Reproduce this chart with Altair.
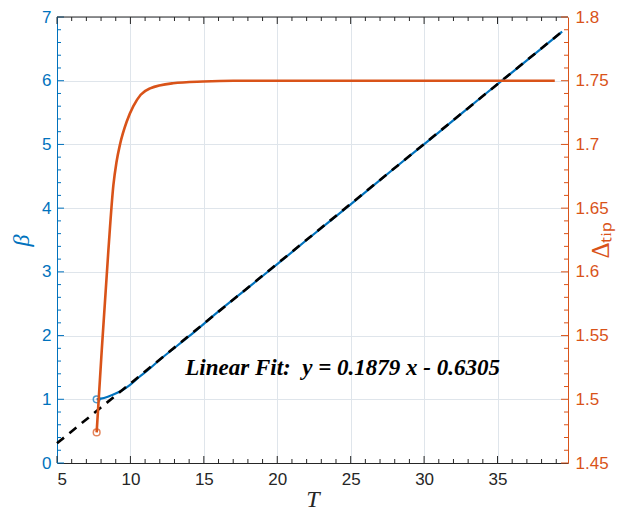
import altair as alt
import pandas as pd

# ---------------- data ----------------
beta_T = [7.7, 8.2, 8.8, 9.5, 10.0, 10.6, 11.2, 12.0, 14.0, 16.0, 18.0, 20.0, 22.0, 25.0, 28.0, 31.0, 34.0, 37.0, 39.4]
beta_v = [1.00, 1.02, 1.07, 1.15, 1.23, 1.35, 1.46, 1.62, 1.99, 2.38, 2.75, 3.12, 3.50, 4.06, 4.63, 5.19, 5.76, 6.32, 6.77]

delta_T = [7.7, 8.05, 8.5, 8.84, 9.05, 9.29, 9.75, 10.2, 10.7, 11.34, 12.9, 14.95, 17.0, 27.0, 38.9]
delta_v = [1.474, 1.539, 1.617, 1.668, 1.686, 1.700, 1.718, 1.730, 1.739, 1.744, 1.748, 1.7494, 1.750, 1.750, 1.750]

fit_T = [5.0, 39.4]
fit_v = [0.309, 6.773]

fit_label = "Linear Fit:\u00a0\u00a0y = 0.1879 x - 0.6305"
fit_label_pos = (24.45, 1.49)

x_ticks = [5, 10, 15, 20, 25, 30, 35]
x_minor = [i for i in range(6, 40) if i % 5 != 0]
yl_ticks = [0, 1, 2, 3, 4, 5, 6, 7]
yl_minor = [round(i * 0.2, 2) for i in range(1, 35) if i % 5 != 0]
yr_ticks = [1.45, 1.5, 1.55, 1.6, 1.65, 1.7, 1.75, 1.8]
yr_minor = [round(1.45 + i * 0.01, 2) for i in range(1, 35) if i % 5 != 0]

# ---------------- style ----------------
W, H = 511, 446
BLUE = "#0072BD"
ORANGE = "#D95319"
DARK = "#262626"
GRID = "#dfe5eb"
LABEL_FONT = "Liberation Sans"
SERIF = "Liberation Serif"

xscale = alt.Scale(domain=[5, 39.8], nice=False, zero=False)
ylscale = alt.Scale(domain=[0, 7], nice=False, zero=False)
yrscale = alt.Scale(domain=[1.45, 1.8], nice=False, zero=False)

beta_df = pd.DataFrame({"T": beta_T, "v": beta_v})
delta_df = pd.DataFrame({"T": delta_T, "v": delta_v})
fit_df = pd.DataFrame({"T": fit_T, "v": fit_v})

x_axis = alt.Axis(values=x_ticks, grid=True, gridColor=GRID, gridWidth=1, tickSize=0,
                  domainColor=DARK, domainWidth=1, labelColor=DARK, labelFont=LABEL_FONT,
                  labelFontSize=17, labelPadding=8, title="T", titleFont=SERIF,
                  titleFontStyle="italic", titleFontWeight="normal", titleFontSize=24,
                  titleColor=DARK, titlePadding=0)
yl_axis = alt.Axis(values=yl_ticks, grid=True, gridColor=GRID, gridWidth=1, tickSize=0,
                   domainColor=BLUE, domainWidth=1, labelColor=BLUE, labelFont=LABEL_FONT,
                   labelFontSize=17, labelPadding=6, title="β", titleFont=SERIF,
                   titleFontStyle="italic", titleFontWeight="normal", titleFontSize=24,
                   titleColor=BLUE, titlePadding=8)
yr_axis = alt.Axis(values=yr_ticks, orient="right", grid=False, tickSize=0, format="~g",
                   domainColor=ORANGE, domainWidth=1, labelColor=ORANGE, labelFont=LABEL_FONT,
                   labelFontSize=17, labelPadding=7, title="Δₜᵢₚ", titleFont=SERIF,
                   titleFontStyle="normal", titleFontWeight="normal", titleFontSize=25,
                   titleColor=ORANGE, titlePadding=5, titleAngle=270)

X = lambda: alt.X("T:Q", scale=xscale, axis=x_axis)
YL = lambda: alt.Y("v:Q", scale=ylscale, axis=yl_axis)
YR = lambda: alt.Y("v:Q", scale=yrscale, axis=yr_axis)

# ---------------- left (beta) group ----------------
beta_line = alt.Chart(beta_df).mark_line(color=BLUE, strokeWidth=2.2, interpolate="monotone").encode(
    x=X(), y=YL(), order="T:Q")
beta_pt = alt.Chart(beta_df.iloc[[0]]).mark_point(shape="circle", filled=False, color=BLUE,
                                                   size=45, strokeWidth=1.5).encode(x=X(), y=YL())
fit_line = alt.Chart(fit_df).mark_line(color="black", strokeWidth=2.6, strokeDash=[9, 7]).encode(
    x=X(), y=YL())
label_df = pd.DataFrame({"T": [fit_label_pos[0]], "v": [fit_label_pos[1]], "t": [fit_label]})
fit_text = alt.Chart(label_df).mark_text(font=SERIF, fontStyle="italic", fontWeight="bold",
                                         fontSize=23, color="black", align="center",
                                         baseline="middle").encode(x=X(), y=YL(), text="t:N")

def vticks(vals, y0, y1, color):
    return alt.Chart(pd.DataFrame({"T": vals})).mark_rule(color=color, strokeWidth=1).encode(
        x=X(), y=alt.value(y0), y2=alt.value(y1))

def hticks(vals, x0, x1, color, Y):
    return alt.Chart(pd.DataFrame({"v": vals})).mark_rule(color=color, strokeWidth=1).encode(
        y=Y(), x=alt.value(x0), x2=alt.value(x1))

top_border = alt.Chart(pd.DataFrame({"a": [0]})).mark_rule(color=DARK, strokeWidth=1).encode(
    x=alt.value(0), x2=alt.value(W), y=alt.value(0))

left_group = alt.layer(
    beta_line,
    vticks(x_ticks, H, H - 7, DARK), vticks(x_minor, H, H - 4, DARK),
    vticks(x_ticks, 0, 7, DARK), vticks(x_minor, 0, 4, DARK),
    hticks(yl_ticks, 0, 7, BLUE, YL), hticks(yl_minor, 0, 4, BLUE, YL),
    top_border,
    beta_pt, fit_line, fit_text,
)

# ---------------- right (delta) group ----------------
delta_line = alt.Chart(delta_df).mark_line(color=ORANGE, strokeWidth=2.6, interpolate="monotone").encode(
    x=X(), y=YR(), order="T:Q")
delta_pt = alt.Chart(delta_df.iloc[[0]]).mark_point(shape="circle", filled=False, color=ORANGE,
                                                     size=45, strokeWidth=1.5).encode(x=X(), y=YR())
right_group = alt.layer(
    delta_line,
    hticks(yr_ticks, W, W - 7, ORANGE, YR), hticks(yr_minor, W, W - 4, ORANGE, YR),
    delta_pt,
)

chart = alt.layer(left_group, right_group).resolve_scale(y="independent").properties(
    width=W, height=H,
    autosize=alt.AutoSizeParams(type="none"),
    padding={"left": 49, "top": 9, "right": 50, "bottom": 48},
).configure_view(stroke=None).configure(background="white")

chart.save("out.html", embed_options={"renderer": "svg", "actions": False})
